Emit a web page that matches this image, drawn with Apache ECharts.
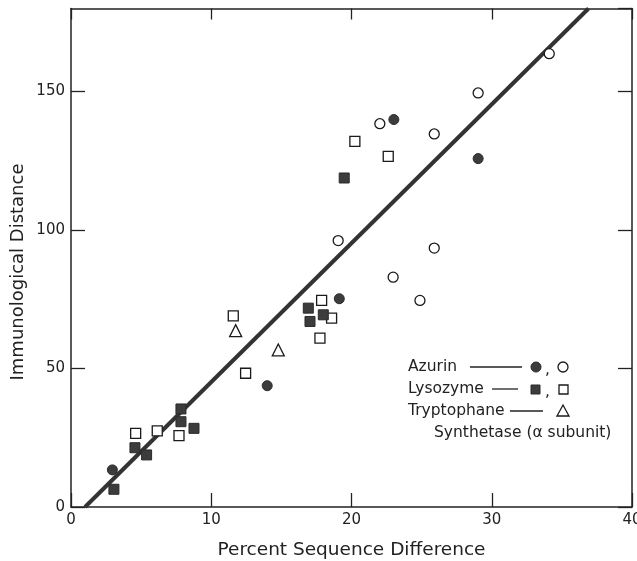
<!DOCTYPE html>
<html>
<head>
<meta charset="utf-8">
<script src="https://cdn.jsdelivr.net/npm/echarts@6/dist/echarts.min.js"></script>
<style>
html,body{margin:0;padding:0;background:#fff;}
#chart{width:637px;height:561px;}
</style>
</head>
<body>
<div id="chart"></div>
<script>
// Data
var azurinFilled = [[2.95,13.4],[13.99,43.8],[19.13,75.2],[23.02,139.9],[29.03,125.8]];
var azurinOpen = [[19.05,96.2],[22.02,138.4],[25.9,134.7],[29.03,149.5],[34.1,163.7],[25.9,93.5],[22.97,83.0],[24.88,74.6]];
var lysozymeFilled = [[3.06,6.4],[4.56,21.4],[5.39,18.8],[7.84,35.4],[7.84,30.8],[8.77,28.4],[16.92,71.8],[17.04,67.0],[17.99,69.4],[19.48,118.8]];
var lysozymeOpen = [[4.61,26.6],[6.15,27.5],[7.70,25.8],[11.57,69.0],[12.45,48.3],[17.75,61.0],[17.87,74.6],[18.58,68.2],[20.24,132.0],[22.62,126.6]];
var tryptophane = [[11.74,63.7],[14.78,56.7]];
var fitLine = [[1.0,0],[36.9,180]];
var xTicks = [0,10,20,30,40];
var yTicks = [0,50,100,150];

var FONT = 'DejaVu Sans';
var dark = '#3c3c3c';
var filledStyle = {color: dark, borderColor: '#2a2a2a', borderWidth: 1, opacity: 1};
var openStyle = {color: '#ffffff', borderColor: '#1a1a1a', borderWidth: 1.3, opacity: 1};

var chart = echarts.init(document.getElementById('chart'), null, {renderer: 'canvas'});
var axisLine = {show: true, onZero: false, lineStyle: {color: '#222', width: 1.5}};
var tick = {show: true, inside: true, length: 14, lineStyle: {color: '#222', width: 1.3}};
var lblX = {color: '#222', fontFamily: FONT, fontSize: 15, margin: 6,
  formatter: function(v){ return xTicks.indexOf(v) >= 0 ? String(v) : ''; }};
var lblY = {color: '#222', fontFamily: FONT, fontSize: 15, margin: 6, showMaxLabel: false,
  formatter: function(v){ return yTicks.indexOf(v) >= 0 ? String(v) : ''; }};
var legendFont = '15.5px "DejaVu Sans"';

chart.setOption({
  animation: false,
  backgroundColor: '#fff',
  grid: {left: 71, right: 5, top: 8.5, bottom: 54, containLabel: false, outerBoundsMode: 'none'},
  xAxis: [
    {type: 'value', position: 'bottom', min: 0, max: 40, interval: 10,
     axisLine: axisLine, axisTick: tick, splitLine: {show: false}, axisLabel: lblX,
     name: 'Percent Sequence Difference', nameLocation: 'middle', nameGap: 34,
     nameTextStyle: {color: '#222', fontFamily: FONT, fontSize: 18.5}},
    {type: 'value', position: 'top', min: 0, max: 40, interval: 10,
     axisLine: axisLine, axisTick: {show: true, inside: true, length: 11, lineStyle: {color: '#222', width: 1.3}},
     splitLine: {show: false}, axisLabel: {show: false}}
  ],
  yAxis: [
    {type: 'value', position: 'left', min: 0, max: 180, interval: 50,
     axisLine: axisLine, axisTick: tick, splitLine: {show: false}, axisLabel: lblY},
    {type: 'value', position: 'right', min: 0, max: 180, interval: 50,
     axisLine: axisLine, axisTick: tick, splitLine: {show: false}, axisLabel: {show: false}}
  ],
  graphic: [
    {type: 'text', x: 18, y: 272, rotation: Math.PI/2,
     style: {text: 'Immunological Distance', fill: '#222', font: '18px "DejaVu Sans"', textAlign: 'center', textVerticalAlign: 'middle'}},
    // legend
    {type: 'text', x: 408, y: 367, style: {text: 'Azurin', fill: '#222', font: legendFont, textVerticalAlign: 'middle'}},
    {type: 'line', shape: {x1: 470, y1: 367, x2: 522, y2: 367}, style: {stroke: '#222', lineWidth: 1.3}},
    {type: 'circle', shape: {cx: 536, cy: 367, r: 5}, style: {fill: dark, stroke: '#2a2a2a'}},
    {type: 'text', x: 545, y: 370, style: {text: ',', fill: '#222', font: legendFont, textVerticalAlign: 'middle'}},
    {type: 'circle', shape: {cx: 563, cy: 367, r: 5}, style: {fill: '#fff', stroke: '#1a1a1a', lineWidth: 1.3}},

    {type: 'text', x: 408, y: 389, style: {text: 'Lysozyme', fill: '#222', font: legendFont, textVerticalAlign: 'middle'}},
    {type: 'line', shape: {x1: 492, y1: 389, x2: 518, y2: 389}, style: {stroke: '#222', lineWidth: 1.3}},
    {type: 'rect', shape: {x: 531, y: 385, width: 9, height: 9}, style: {fill: dark, stroke: '#2a2a2a'}},
    {type: 'text', x: 545, y: 392, style: {text: ',', fill: '#222', font: legendFont, textVerticalAlign: 'middle'}},
    {type: 'rect', shape: {x: 559, y: 385, width: 9, height: 9}, style: {fill: '#fff', stroke: '#1a1a1a', lineWidth: 1.3}},

    {type: 'text', x: 408, y: 411, style: {text: 'Tryptophane', fill: '#222', font: legendFont, textVerticalAlign: 'middle'}},
    {type: 'line', shape: {x1: 510, y1: 411, x2: 543, y2: 411}, style: {stroke: '#222', lineWidth: 1.3}},
    {type: 'polygon', shape: {points: [[563,405],[569,416],[557,416]]}, style: {fill: '#fff', stroke: '#1a1a1a', lineWidth: 1.3}},
    {type: 'text', x: 434, y: 433, style: {text: 'Synthetase (\u03b1 subunit)', fill: '#222', font: legendFont, textVerticalAlign: 'middle'}}
  ],
  series: [
    {type: 'line', data: fitLine, symbol: 'none', z: 1, lineStyle: {color: '#333', width: 4}, silent: true},
    {type: 'scatter', data: azurinOpen, symbol: 'circle', symbolSize: 10, itemStyle: openStyle, z: 3},
    {type: 'scatter', data: azurinFilled, symbol: 'circle', symbolSize: 10, itemStyle: filledStyle, z: 3},
    {type: 'scatter', data: lysozymeOpen, symbol: 'rect', symbolSize: 10, itemStyle: openStyle, z: 3},
    {type: 'scatter', data: lysozymeFilled, symbol: 'rect', symbolSize: 10, itemStyle: filledStyle, z: 3},
    {type: 'scatter', data: tryptophane, symbol: 'triangle', symbolSize: 12, itemStyle: openStyle, z: 3}
  ]
});
</script>
</body>
</html>
